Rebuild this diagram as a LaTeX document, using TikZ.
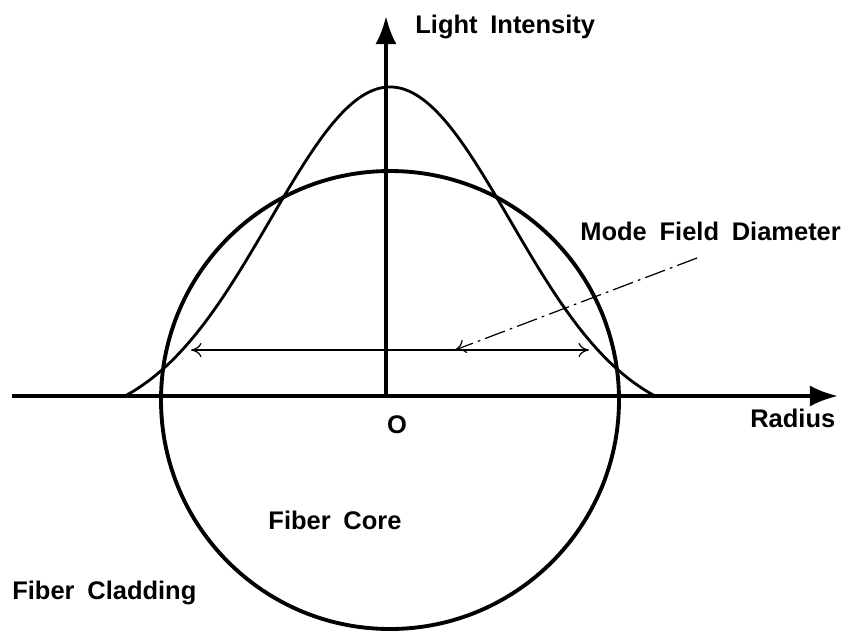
\documentclass[tikz,border=0pt]{standalone}
\usepackage{fontspec}
\setmainfont{Liberation Sans}
\newfontfamily\lblfont{Liberation Sans}[WordSpace=1.8]
\usetikzlibrary{arrows.meta,positioning}

\begin{document}
\begin{tikzpicture}[
    x=0.02cm, y=-0.02cm,
    axis/.style={line width=2.2pt, -{Latex[length=16pt,width=12pt]}},
    core/.style={line width=2.2pt},
    profile/.style={line width=1.6pt},
    dim/.style={line width=0.7pt, {To[length=6pt,width=8pt]}-{To[length=6pt,width=8pt]}},
    leader/.style={line width=0.7pt, dash pattern=on 12pt off 3pt on 1.5pt off 3pt, -{To[length=6pt,width=8pt]}},
    lbl/.style={font=\lblfont\fontsize{14.5}{17}\selectfont\bfseries, inner sep=0pt}
]
\useasboundingbox (0,0) rectangle (853,633);

% Axes
\coordinate (O) at (386,396);
\coordinate (xstart) at (12,396);
\coordinate (xend) at (838,396);
\coordinate (ytop) at (386,16);
\draw[axis] (xstart) -- (xend);
\draw[axis] (O) -- (ytop);

% Fiber core
\coordinate (center) at (390,400);
\draw[core] (center) circle [radius=229];

% Intensity profile
\draw[profile, domain=-265:265, samples=120, smooth]
    plot ({390+\x}, {396-309*(exp(-0.5*(\x/120)^2)-0.0873)/0.9127});

% Mode field diameter
\coordinate (mfdL) at (191,350);
\coordinate (mfdR) at (589,350);
\coordinate (lead) at (697,258);
\coordinate (mfdtip) at (455,350);
\draw[dim] (mfdL) -- (mfdR);
\draw[leader] (lead) -- (mfdtip);

% Labels
\node[lbl, anchor=base west] (ylabel) at (415,33) {Light Intensity};
\node[lbl, anchor=base west] (mfdlabel) at (580,240) {Mode Field Diameter};
\node[lbl, anchor=base west] (xlabel) at (750,427) {Radius};
\node[lbl] (olabel) at (397,425) {O};
\node[lbl] (corelabel) at (335,520) {Fiber Core};
\node[lbl, anchor=west] (cladlabel) at (12,593) {Fiber Cladding};

\end{tikzpicture}
\end{document}
